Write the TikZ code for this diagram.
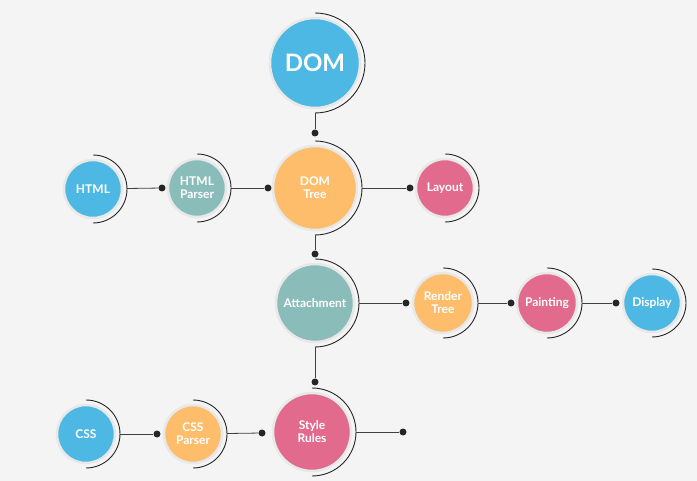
\documentclass[tikz,border=0pt]{standalone}
\usepackage{fontspec}
\setmainfont{Lato}
\usetikzlibrary{positioning}
\definecolor{bgrey}{HTML}{F4F4F4}
\definecolor{cblue}{HTML}{4DB8E3}
\definecolor{cteal}{HTML}{8ABDB9}
\definecolor{corange}{HTML}{FDBD6B}
\definecolor{cpink}{HTML}{E26A8D}
\begin{document}
\begin{tikzpicture}[x=1pt,y=-1pt,
        bub/.style={circle, inner sep=0pt, outer sep=5pt, minimum size=#1,
            draw=black!9, line width=2.5pt, text=white, align=center,
            font=\bfseries\fontsize{12}{13}\selectfont},
        dot/.style={circle, fill=black!85, inner sep=0pt, minimum size=7pt},
        link/.style={draw=black!75, line width=0.8pt},
        half/.style={draw=black!85, line width=0.9pt}]
    \useasboundingbox[fill=bgrey] (0,0) rectangle (697,481);
    % bubbles
    \node[bub=90pt, fill=cblue, font=\bfseries\fontsize{24}{26}\selectfont] (dom) at (315,63) {DOM};
    \node[bub=84pt, fill=corange] (domtree) at (315,188) {DOM\\Tree};
    \node[bub=58pt, fill=cblue] (html) at (93,189) {HTML};
    \node[bub=58pt, fill=cteal] (htmlparser) at (197,188) {HTML\\Parser};
    \node[bub=58pt, fill=cpink] (layout) at (445,188) {Layout};
    \node[bub=78pt, fill=cteal] (attach) at (315,303) {Attachment};
    \node[bub=60pt, fill=corange] (render) at (443,303) {Render\\Tree};
    \node[bub=60pt, fill=cpink] (paint) at (547,303) {Painting};
    \node[bub=58pt, fill=cblue] (display) at (652,303) {Display};
    \node[bub=78pt, fill=cpink] (style) at (312,432) {Style\\Rules};
    \node[bub=58pt, fill=cblue] (css) at (86,434) {CSS};
    \node[bub=58pt, fill=corange] (cssparser) at (193,434) {CSS\\Parser};
    % half rings
    \foreach \n/\r in {dom/50, domtree/47, html/34, htmlparser/34, layout/34,
            attach/44, render/35, paint/35, display/34, style/44, css/34, cssparser/34}
        \draw[half] (\n.north) arc[start angle=90, end angle=-90, radius=\r pt];
    % dots
    \node[dot] (d-dom) at (315,133) {};
    \node[dot] (d-hp) at (162,188) {};
    \node[dot] (d-dt) at (268,188) {};
    \node[dot] (d-lay) at (410,188) {};
    \node[dot] (d-att) at (315,254) {};
    \node[dot] (d-ren) at (406,303) {};
    \node[dot] (d-pai) at (511,303) {};
    \node[dot] (d-dis) at (616,303) {};
    \node[dot] (d-sty) at (315,382) {};
    \node[dot] (d-cp) at (157,434) {};
    \node[dot] (d-sr) at (262,433) {};
    \node[dot] (d-end) at (403,432) {};
    % links
    \draw[link] (dom) -- (d-dom);
    \draw[link] (html) -- (d-hp);
    \draw[link] (htmlparser) -- (d-dt);
    \draw[link] (domtree) -- (d-lay);
    \draw[link] (domtree) -- (d-att);
    \draw[link] (attach) -- (d-ren);
    \draw[link] (render) -- (d-pai);
    \draw[link] (paint) -- (d-dis);
    \draw[link] (attach) -- (d-sty);
    \draw[link] (css) -- (d-cp);
    \draw[link] (cssparser) -- (d-sr);
    \draw[link] (style) -- (d-end);
\end{tikzpicture}
\end{document}
